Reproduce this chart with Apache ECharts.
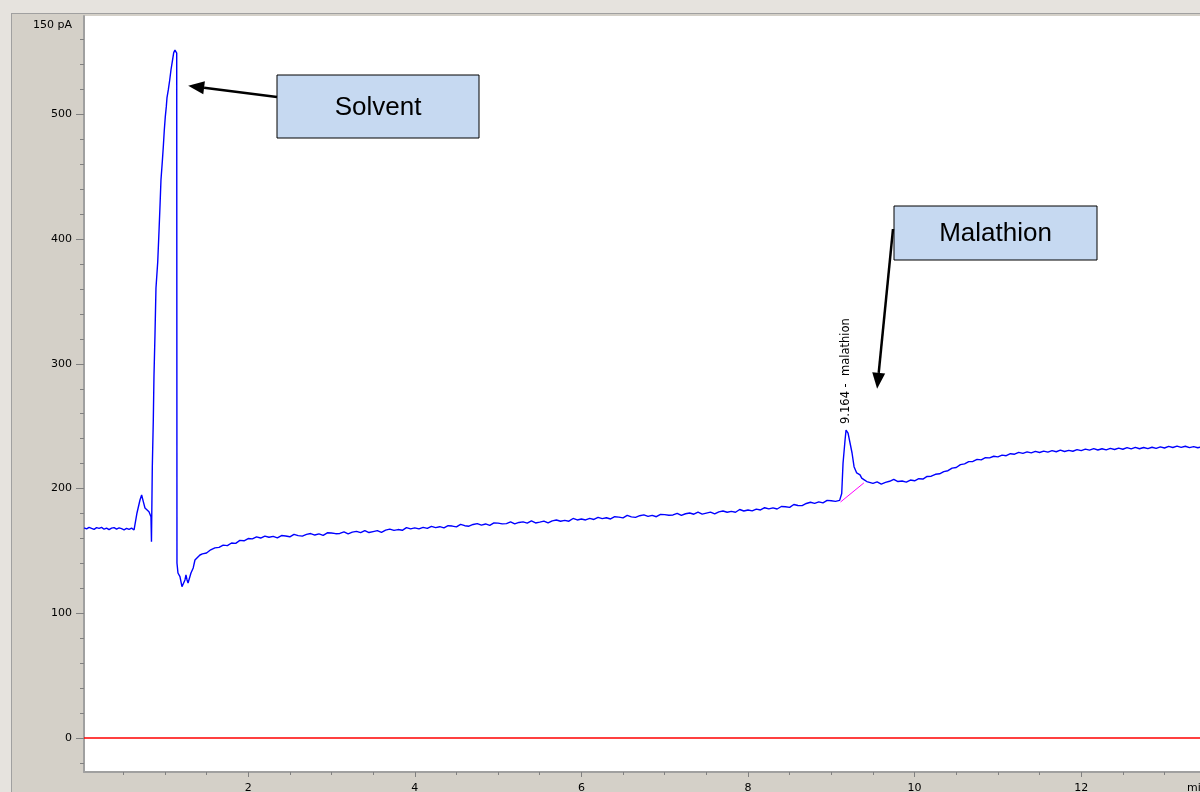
<!DOCTYPE html>
<html>
<head>
<meta charset="utf-8">
<script src="https://cdn.jsdelivr.net/npm/echarts@6/dist/echarts.min.js"></script>
<style>
  html, body { margin:0; padding:0; width:1200px; height:792px; overflow:hidden; background:#e6e3de; }
  #panel { position:absolute; left:11px; top:13px; width:1189px; height:779px; background:#d4d0c8; border-left:1px solid #a0a0a0; border-top:1px solid #a0a0a0; }
  #chart { position:absolute; left:0; top:0; width:1200px; height:792px; }
</style>
</head>
<body>
<div id="panel"></div>
<div id="chart"></div>
<script>
// ---- data (time in min, signal in pA) ----
const solventTrace = [
  [0.03,168.5],[0.06,167.6],[0.09,168.9],[0.12,168.0],[0.15,167.2],[0.18,168.6],[0.21,168.1],[0.24,168.9],
  [0.27,167.4],[0.30,168.3],[0.33,167.0],[0.36,168.2],[0.39,168.7],[0.42,167.5],[0.45,168.4],[0.48,167.8],
  [0.51,166.9],[0.54,168.1],[0.57,167.3],[0.60,168.3],[0.63,166.8],[0.653,166.8],[0.665,180.4],[0.701,190.8],
  [0.721,194.8],[0.741,189.5],[0.761,184.4],[0.785,182.8],[0.809,181.4],[0.821,180.4],[0.833,177.4],[0.839,157.4],
  [0.849,217.5],[0.861,255.0],[0.869,290.3],[0.881,323.1],[0.893,360.8],[0.914,381.7],[0.929,405.7],[0.941,426.0],
  [0.953,447.4],[0.969,462.1],[0.981,474.1],[0.993,487.5],[1.005,498.2],[1.017,506.2],[1.025,513.2],[1.041,519.6],
  [1.058,527.6],[1.073,535.6],[1.089,542.3],[1.106,549.5],[1.121,551.6],[1.142,549.2],[1.145,140.3],[1.157,132.3],
  [1.181,129.3],[1.205,121.3],[1.221,120.8],[1.229,121.9],[1.241,126.7],[1.253,130.7],[1.266,126.7],[1.278,124.3],
  [1.301,125.3],[1.313,132.3],[1.34,136.3],[1.361,142.7],[1.382,144.3],[1.421,146.7]
];
const baselineTrace = [
  [1.45,147.6],[1.50,148.3],[1.55,150.9],[1.60,152.4],[1.65,152.8],[1.70,154.6],[1.75,154.2],[1.80,156.3],
  [1.85,156.0],[1.90,158.4],[1.95,158.1],[2.00,159.9],[2.05,159.6],
  [2.10,161.2],[2.15,160.3],[2.20,161.9],[2.25,160.9],[2.30,161.6],[2.35,160.5],[2.40,162.3],[2.45,161.9],
  [2.50,161.3],[2.55,163.3],[2.60,162.2],[2.65,161.8],[2.70,163.2],[2.75,163.9],[2.80,162.7],[2.85,163.6],
  [2.90,162.5],[2.95,164.5],[3.00,164.3],[3.05,163.8],[3.10,164.0],[3.15,165.3],[3.20,163.7],[3.25,165.0],
  [3.30,165.6],[3.35,164.6],[3.40,166.3],[3.45,164.7],[3.50,165.5],[3.55,166.3],[3.60,164.9],[3.65,166.6],
  [3.70,167.4],[3.75,166.4],[3.80,167.1],[3.85,166.5],[3.90,168.7],[3.95,167.6],[4.00,168.4],[4.05,167.6],
  [4.10,168.9],[4.15,168.0],[4.20,169.7],[4.25,168.7],[4.30,169.4],[4.35,168.4],[4.40,170.2],[4.45,169.9],
  [4.50,169.3],[4.55,171.3],[4.60,170.2],[4.65,169.8],[4.70,171.2],[4.75,171.9],[4.80,170.7],[4.85,171.6],
  [4.90,170.5],[4.95,172.5],[5.00,172.3],[5.05,171.7],[5.10,171.9],[5.15,173.2],[5.20,171.6],[5.25,172.8],
  [5.30,173.3],[5.35,172.3],[5.40,174.0],[5.45,172.4],[5.50,173.1],[5.55,173.9],[5.60,172.4],[5.65,174.1],
  [5.70,174.8],[5.75,173.8],[5.80,174.5],[5.85,173.8],[5.90,176.0],[5.95,174.8],[6.00,175.6],[6.05,174.8],
  [6.10,176.1],[6.15,175.2],[6.20,176.9],[6.25,175.9],[6.30,176.6],[6.35,175.6],[6.40,177.4],[6.45,177.1],
  [6.50,176.5],[6.55,178.5],[6.60,177.3],[6.65,176.9],[6.70,178.2],[6.75,178.9],[6.80,177.7],[6.85,178.5],
  [6.90,177.4],[6.95,179.3],[7.00,179.1],[7.05,178.6],[7.10,178.8],[7.15,180.1],[7.20,178.5],[7.25,179.8],
  [7.30,180.4],[7.35,179.4],[7.40,181.1],[7.45,179.5],[7.50,180.3],[7.55,181.1],[7.60,179.6],[7.65,181.3],
  [7.70,182.0],[7.75,181.0],[7.80,181.7],[7.85,181.0],[7.90,183.2],[7.95,182.0],[8.00,182.8],[8.05,182.1],
  [8.10,183.5],[8.15,182.8],[8.20,184.6],[8.25,183.7],[8.30,184.5],[8.35,183.6],[8.40,185.6],[8.45,185.4],
  [8.50,184.9],[8.55,187.2],[8.60,186.4],[8.65,186.3],[8.70,188.0],[8.75,189.0],[8.80,188.1],[8.85,189.3],
  [8.90,188.5],[8.95,190.5],[9.00,190.2],[9.05,189.7],[9.10,190.5]
];
const malathionPeak = [
  [9.111,189.2],[9.125,196.0],[9.141,220.5],[9.165,238.9],[9.177,246.9],[9.19,245.8],[9.201,244.5],
  [9.225,236.5],[9.249,228.5],[9.273,217.5],[9.305,212.5],[9.345,210.9],[9.365,208.4],[9.381,206.9],
  [9.40,206.8],[9.426,205.6]
];
const tailTrace = [
  [9.45,205.2],[9.50,204.1],[9.55,205.3],[9.60,203.6],[9.65,204.9],[9.70,205.8],[9.75,207.4],[9.80,205.6],
  [9.85,206.0],[9.90,205.1],[9.95,206.8],[10.00,206.2],[10.05,207.9],[10.10,207.6],[10.15,209.7],[10.20,209.9],
  [10.25,211.4],[10.30,211.8],[10.35,213.6],[10.40,214.3],[10.45,216.4],[10.50,216.9],[10.55,219.2],[10.60,219.8],
  [10.65,221.6],[10.70,221.7],[10.75,223.4],[10.80,223.0],[10.85,224.7],[10.90,224.6],[10.95,225.9],[11.00,225.4],
  [11.05,226.8],[11.10,226.3],[11.15,227.9],[11.20,227.5],[11.25,229.0],[11.30,228.2],[11.35,229.4],[11.40,228.6],
  [11.45,229.8],[11.50,228.9],[11.55,230.0],[11.60,229.2],[11.65,230.4],[11.70,229.5],[11.75,230.8],[11.80,229.7],
  [11.85,230.6],[11.90,229.9],[11.95,231.2],[12.00,230.4],[12.05,231.6],[12.10,230.8],[12.15,232.0],[12.20,230.9],
  [12.25,231.9],[12.30,231.0],[12.35,232.2],[12.40,231.3],[12.45,232.4],[12.50,231.5],[12.55,232.8],[12.60,231.8],
  [12.65,233.0],[12.70,231.9],[12.75,232.9],[12.80,232.0],[12.85,233.1],[12.90,232.2],[12.95,233.4],[13.00,232.5],
  [13.05,233.8],[13.10,232.9],[13.15,234.0],[13.20,233.0],[13.25,233.9],[13.30,232.8],[13.35,233.6],[13.40,232.7],
  [13.45,233.5]
];
const integrationBaseline = [[9.111,189.2],[9.391,204.5]];
const xTickLabels = [2,4,6,8,10,12];
const xMinorTicks = [0.5,1,1.5,2,2.5,3,3.5,4,4.5,5,5.5,6,6.5,7,7.5,8,8.5,9,9.5,10,10.5,11,11.5,12,12.5,13];
const yTickLabels = [0,100,200,300,400,500];
const yMinorTicks = [-20,0,20,40,60,80,100,120,140,160,180,200,220,240,260,280,300,320,340,360,380,400,420,440,460,480,500,520,540,560];
const peakTime = 9.164, peakValue = 246.9;
const peakText = '9.164 -  malathion';
const yUnitText = '150 pA';
const xUnitText = 'min';
const annotationTexts = ['Solvent', 'Malathion'];

// ---- chart ----
const X_MIN = 0.029, X_MAX = 13.426, Y_MIN = -27.3, Y_MAX = 578.9;
const FONT = 'DejaVu Sans';
const chart = echarts.init(document.getElementById('chart'), null, {renderer:'canvas'});
const axisGrey = '#a0a0a0', tickGrey = '#808080';

chart.setOption({
  animation: false,
  grid: { left:84, top:16, right:0, bottom:20, show:true, backgroundColor:'#ffffff', borderWidth:0,
          containLabel:false, outerBoundsMode:'none' },
  xAxis: [
    { type:'value', min:X_MIN, max:X_MAX, position:'bottom',
      axisLine:{ show:true, onZero:false, lineStyle:{ color:axisGrey, width:2 } },
      axisTick:{ show:true, customValues:xTickLabels, length:5, lineStyle:{ color:tickGrey } },
      axisLabel:{ show:true, customValues:xTickLabels, margin:11, fontFamily:FONT, fontSize:11, color:'#000' },
      splitLine:{ show:false } },
    { type:'value', min:X_MIN, max:X_MAX, position:'bottom', offset:0,
      axisLine:{ show:false, onZero:false },
      axisTick:{ show:true, customValues:xMinorTicks, length:3, lineStyle:{ color:tickGrey } },
      axisLabel:{ show:false }, splitLine:{ show:false } }
  ],
  yAxis: [
    { type:'value', min:Y_MIN, max:Y_MAX, position:'left',
      axisLine:{ show:true, onZero:false, lineStyle:{ color:axisGrey, width:2 } },
      axisTick:{ show:true, customValues:yTickLabels, length:8, lineStyle:{ color:tickGrey } },
      axisLabel:{ show:true, customValues:yTickLabels, margin:12, fontFamily:FONT, fontSize:11, color:'#000' },
      splitLine:{ show:false } },
    { type:'value', min:Y_MIN, max:Y_MAX, position:'left', offset:0,
      axisLine:{ show:false, onZero:false },
      axisTick:{ show:true, customValues:yMinorTicks, length:4, lineStyle:{ color:tickGrey } },
      axisLabel:{ show:false }, splitLine:{ show:false } }
  ],
  series: [
    { type:'line', name:'FID', xAxisIndex:0, yAxisIndex:0, showSymbol:false, symbol:'none',
      data: solventTrace.concat(baselineTrace, malathionPeak, tailTrace),
      lineStyle:{ color:'#0000ff', width:1.4 }, z:3,
      markLine:{ silent:true, symbol:'none', label:{show:false},
        lineStyle:{ color:'#ff0000', width:1.5, type:'solid' }, data:[{ yAxis:0 }] } },
    { type:'line', name:'baseline', xAxisIndex:0, yAxisIndex:0, showSymbol:false, symbol:'none',
      data: integrationBaseline, lineStyle:{ color:'#ff00ff', width:1 }, z:4 }
  ]
});

function arrow(tail, tip, len, half) {
  const dx = tip[0]-tail[0], dy = tip[1]-tail[1];
  const L = Math.sqrt(dx*dx+dy*dy), ux = dx/L, uy = dy/L;
  const bx = tip[0]-ux*len, by = tip[1]-uy*len;
  const nx = -uy*half, ny = ux*half;
  return [
    { type:'line', shape:{ x1:tail[0], y1:tail[1], x2:bx, y2:by }, style:{ stroke:'#000', lineWidth:2.5 }, z:20 },
    { type:'polygon', shape:{ points:[[tip[0],tip[1]],[bx+nx,by+ny],[bx-nx,by-ny]] }, style:{ fill:'#000' }, z:20 }
  ];
}
function box(x, y, w, h, text) {
  return [
    { type:'rect', shape:{ x:x, y:y, width:w, height:h }, style:{ fill:'#c6d9f1', stroke:'#000', lineWidth:1 }, z:20 },
    { type:'text', x:x+w/2, y:y+h/2+1, style:{ text:text, fill:'#000', font:'26px "Liberation Sans"', align:'center', verticalAlign:'middle' }, z:21 }
  ];
}

const pk = chart.convertToPixel({ xAxisIndex:0, yAxisIndex:0 }, [peakTime, peakValue]);
const solventTip = chart.convertToPixel({ xAxisIndex:0, yAxisIndex:0 }, [1.28, 523]);
const malTip = chart.convertToPixel({ xAxisIndex:0, yAxisIndex:0 }, [9.55, 280]);

const els = [
  { type:'text', x:72, y:25, style:{ text:yUnitText, fill:'#000', font:'11px "DejaVu Sans"', align:'right', verticalAlign:'middle' }, z:10 },
  { type:'text', x:1187, y:788, style:{ text:xUnitText, fill:'#000', font:'11px "DejaVu Sans"', align:'left', verticalAlign:'middle' }, z:10 },
  { type:'text', x:pk[0]+1, y:pk[1]-59, rotation:Math.PI/2,
    style:{ text:peakText, fill:'#000', font:'11.5px "DejaVu Sans"', align:'center', verticalAlign:'middle' }, z:10 }
].concat(
  box(277, 75, 202, 63, annotationTexts[0]),
  box(894, 206, 203, 54, annotationTexts[1]),
  arrow([277, 97], solventTip, 16, 6.5),
  arrow([893, 229], malTip, 16, 6.5)
);
chart.setOption({ graphic:{ elements: els } });
</script>
</body>
</html>
